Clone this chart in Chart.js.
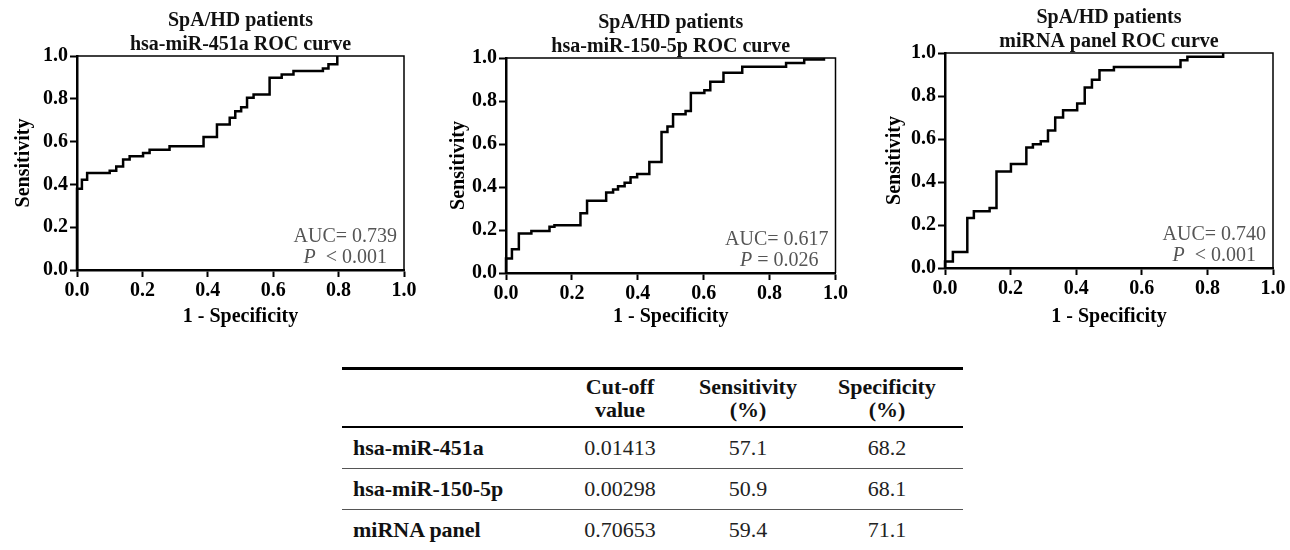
<!DOCTYPE html>
<html>
<head>
<meta charset="utf-8">
<title>SpA/HD ROC curves</title>
<script src="https://cdn.jsdelivr.net/npm/chart.js@4.4.0/dist/chart.umd.min.js"></script>
<style>
	body { margin: 0; background: #fff; }
	#page { position: relative; width: 1290px; height: 550px; overflow: hidden; background: #fff; }
	canvas { position: absolute; top: 0; }
	#roc451a { left: 0; }
	#roc150 { left: 430px; }
	#rocPanel { left: 868px; }
	#cutoffTable {
		position: absolute; left: 342px; top: 367px; width: 621px;
		border-collapse: collapse;
		font-family: "Liberation Serif", "Times New Roman", serif; font-size: 22px; color: #111;
	}
	#cutoffTable thead tr { border-top: 3px solid #000; border-bottom: 2px solid #000; }
	#cutoffTable th { font-weight: bold; line-height: 23px; height: 56px; padding: 0; text-align: center; }
	#cutoffTable td { height: 40px; padding: 0; text-align: center; color: #222; }
	#cutoffTable tbody tr + tr { border-top: 1px solid #555; }
	#cutoffTable td.name { text-align: left; padding-left: 11px; font-weight: bold; color: #111; }
	.c1 { width: 207px; } .c2 { width: 120px; } .c3 { width: 136px; } .c4 { width: 142px; padding-right: 5px !important; }
</style>
</head>
<body>
<div id="page">
	<canvas id="roc451a" width="420" height="335"></canvas>
	<canvas id="roc150" width="420" height="335"></canvas>
	<canvas id="rocPanel" width="422" height="335"></canvas>
	<table id="cutoffTable">
		<thead>
			<tr><th class="c1"></th><th class="c2">Cut-off<br>value</th><th class="c3">Sensitivity<br>(%)</th><th class="c4">Specificity<br>(%)</th></tr>
		</thead>
		<tbody id="cutoffBody"></tbody>
	</table>
</div>
<script>
// ROC points: 1 - specificity (x) and sensitivity (y)
const fpr451a = [0, 0, 0.015, 0.031, 0.1, 0.12, 0.141, 0.161, 0.202, 0.222, 0.283, 0.387, 0.428, 0.467, 0.484, 0.502, 0.52, 0.54, 0.589, 0.626, 0.662, 0.752, 0.769, 0.796];
const tpr451a = [0, 0.38, 0.422, 0.453, 0.464, 0.484, 0.516, 0.531, 0.547, 0.5625, 0.578, 0.622, 0.68, 0.711, 0.742, 0.76, 0.805, 0.82, 0.898, 0.914, 0.93, 0.942, 0.961, 1.0];

const fpr150 = [0, 0, 0.018, 0.039, 0.077, 0.132, 0.147, 0.226, 0.246, 0.304, 0.325, 0.34, 0.36, 0.378, 0.398, 0.435, 0.472, 0.49, 0.507, 0.545, 0.561, 0.602, 0.62, 0.66, 0.717, 0.85, 0.905, 0.965];
const tpr150 = [0, 0.067, 0.11, 0.184, 0.195, 0.215, 0.222, 0.278, 0.336, 0.374, 0.388, 0.404, 0.42, 0.445, 0.46, 0.516, 0.656, 0.681, 0.738, 0.753, 0.837, 0.85, 0.889, 0.931, 0.959, 0.977, 0.993, 1.0];

const fprPanel = [0, 0, 0.024, 0.068, 0.088, 0.136, 0.157, 0.201, 0.248, 0.268, 0.292, 0.314, 0.336, 0.36, 0.403, 0.426, 0.448, 0.471, 0.515, 0.718, 0.739, 0.848];
const tprPanel = [0, 0.03, 0.074, 0.233, 0.264, 0.279, 0.449, 0.484, 0.56, 0.576, 0.59, 0.639, 0.70, 0.734, 0.765, 0.84, 0.876, 0.92, 0.935, 0.966, 0.983, 1.0];

const tickValues = [0, 0.2, 0.4, 0.6, 0.8, 1.0];

// cut-off table
const markers = ["hsa-miR-451a", "hsa-miR-150-5p", "miRNA panel"];
const cutoffs = ["0.01413", "0.00298", "0.70653"];
const sensitivities = ["57.1", "50.9", "59.4"];
const specificities = ["68.2", "68.1", "71.1"];

const serif = "'Liberation Serif', 'Times New Roman', serif";

// draws the two-line title, the top/right frame and the AUC / P text
const rocTextPlugin = {
	id: "rocText",
	afterDatasetsDraw(chart, args, opts) {
		const { ctx, chartArea: a } = chart;
		ctx.save();
		// thin frame on top and right
		ctx.strokeStyle = "#000";
		ctx.lineWidth = 1.5;
		ctx.beginPath();
		ctx.moveTo(a.left, a.top);
		ctx.lineTo(a.right, a.top);
		ctx.lineTo(a.right, a.bottom);
		ctx.stroke();

		const cx = (a.left + a.right) / 2;
		ctx.fillStyle = "#111";
		ctx.textAlign = "center";
		ctx.textBaseline = "middle";
		ctx.font = "bold 20px " + serif;
		ctx.fillText(opts.title1, cx, a.top - 35);
		ctx.fillText(opts.title2, cx, a.top - 11);

		// AUC and P value in the lower right corner
		ctx.fillStyle = "#555";
		ctx.textAlign = "right";
		ctx.font = "20px " + serif;
		ctx.fillText(opts.auc, a.right - 7, a.bottom - 33);
		const rest = opts.pText;
		const restWidth = ctx.measureText(rest).width;
		ctx.fillText(rest, a.right - 17, a.bottom - 12);
		ctx.font = "italic 20px " + serif;
		ctx.fillText("P", a.right - 17 - restWidth, a.bottom - 12);
		ctx.restore();
	}
};

function rocOptions(pad, axisHeight, yTitlePad, texts) {
	const tickFont = { family: serif, size: 20, weight: "bold" };
	return {
		responsive: false,
		animation: false,
		layout: { padding: pad },
		plugins: {
			legend: { display: false },
			tooltip: { enabled: false },
			rocText: texts
		},
		scales: {
			x: {
				type: "linear",
				min: 0,
				max: 1,
				afterBuildTicks: (scale) => { scale.ticks = tickValues.map((v) => ({ value: v })); },
				afterFit: (scale) => { scale.height = axisHeight; },
				grid: { drawOnChartArea: false, tickLength: 7, tickWidth: 2, tickColor: "#000" },
				border: { color: "#000", width: 2.5 },
				ticks: { font: tickFont, color: "#000", padding: 2, maxRotation: 0, autoSkip: false, callback: (v) => v.toFixed(1) },
				title: { display: true, text: "1 - Specificity", font: tickFont, color: "#000", padding: { top: 0, bottom: 1 } }
			},
			y: {
				min: 0,
				max: 1,
				afterBuildTicks: (scale) => { scale.ticks = tickValues.map((v) => ({ value: v })); },
				afterFit: (scale) => { scale.width = pad.yWidth; },
				grid: { drawOnChartArea: false, tickLength: 7, tickWidth: 2, tickColor: "#000" },
				border: { color: "#000", width: 2.5 },
				ticks: { font: tickFont, color: "#000", padding: 2, autoSkip: false, callback: (v) => v.toFixed(1) },
				title: { display: true, text: "Sensitivity", font: tickFont, color: "#000", padding: { top: yTitlePad, bottom: 0 } }
			}
		}
	};
}

function rocChart(id, fpr, tpr, pad, axisHeight, yTitlePad, texts) {
	return new Chart(document.getElementById(id), {
		type: "line",
		data: {
			datasets: [{
				data: fpr.map((x, i) => ({ x: x, y: tpr[i] })),
				borderColor: "#000",
				borderWidth: 2.5,
				pointRadius: 0,
				stepped: "before",
				clip: 4
			}]
		},
		options: rocOptions(pad, axisHeight, yTitlePad, texts),
		plugins: [rocTextPlugin]
	});
}

document.addEventListener("DOMContentLoaded", function () {
	rocChart("roc451a", fpr451a, tpr451a,
		{ top: 56, right: 16, bottom: 5, left: 0, yWidth: 77 }, 60, 12,
		{ title1: "SpA/HD patients", title2: "hsa-miR-451a ROC curve", auc: "AUC= 0.739", pText: "  < 0.001" });

	rocChart("roc150", fpr150, tpr150,
		{ top: 58, right: 14, bottom: 5, left: 0, yWidth: 76 }, 57, 17,
		{ title1: "SpA/HD patients", title2: "hsa-miR-150-5p ROC curve", auc: "AUC= 0.617", pText: " = 0.026" });

	rocChart("rocPanel", fprPanel, tprPanel,
		{ top: 53, right: 17, bottom: 5, left: 0, yWidth: 77 }, 62, 15,
		{ title1: "SpA/HD patients", title2: "miRNA panel ROC curve", auc: "AUC= 0.740", pText: "  < 0.001" });

	// fill the cut-off table
	const body = document.getElementById("cutoffBody");
	markers.forEach((name, i) => {
		const row = document.createElement("tr");
		row.innerHTML = `
			<td class="name c1">${name}</td>
			<td class="c2">${cutoffs[i]}</td>
			<td class="c3">${sensitivities[i]}</td>
			<td class="c4">${specificities[i]}</td>
		`;
		body.appendChild(row);
	});
});
</script>
</body>
</html>
